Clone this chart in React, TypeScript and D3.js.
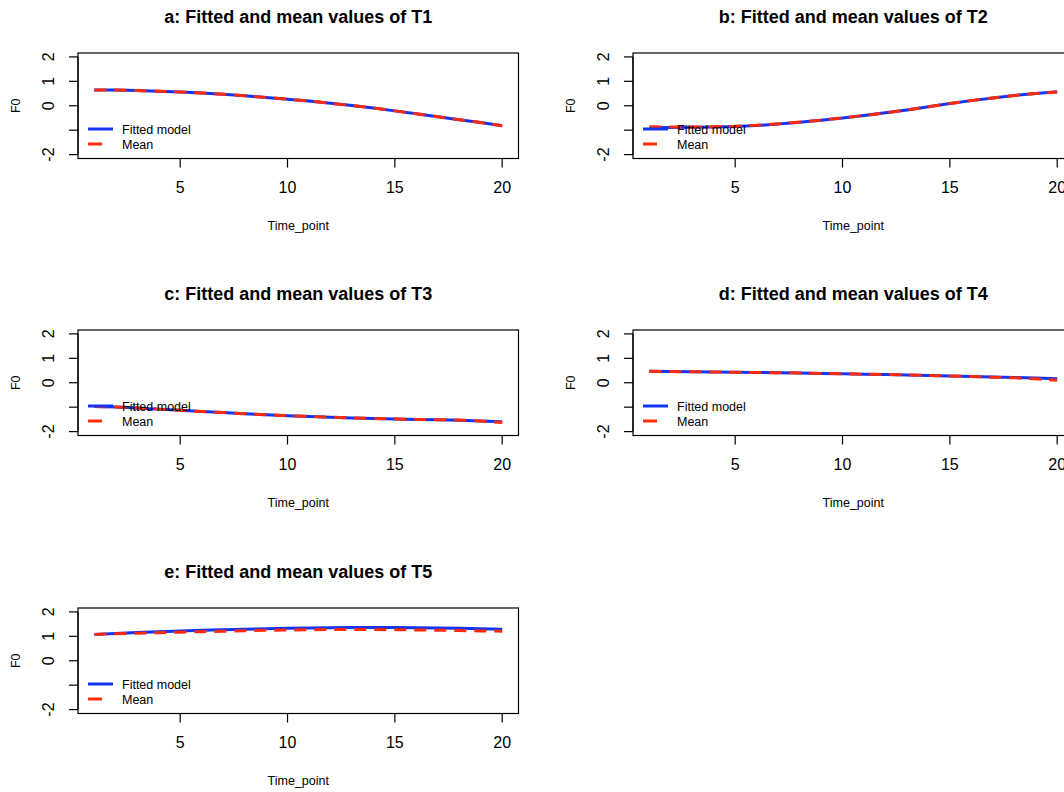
import React from "react";
import * as d3 from "d3";

const timePoints = d3.range(1, 21);
const xTicks = [5, 10, 15, 20];
const yTicks = [-2, -1, 0, 1, 2];
const yTickLabels = ["-2", "", "0", "1", "2"];

const titles = [
  "a: Fitted and mean values of T1",
  "b: Fitted and mean values of T2",
  "c: Fitted and mean values of T3",
  "d: Fitted and mean values of T4",
  "e: Fitted and mean values of T5",
];

const fittedT1 = [0.65, 0.64, 0.62, 0.59, 0.56, 0.52, 0.47, 0.41, 0.34, 0.27, 0.19, 0.1, 0.01, -0.09, -0.21, -0.33, -0.45, -0.57, -0.69, -0.82];
const meanT1 = [0.65, 0.64, 0.62, 0.59, 0.56, 0.52, 0.47, 0.41, 0.34, 0.27, 0.19, 0.1, 0.01, -0.09, -0.21, -0.33, -0.45, -0.57, -0.69, -0.82];
const fittedT2 = [-0.9, -0.89, -0.88, -0.87, -0.85, -0.81, -0.75, -0.68, -0.59, -0.5, -0.4, -0.29, -0.17, -0.04, 0.09, 0.21, 0.32, 0.42, 0.5, 0.57];
const meanT2 = [-0.86, -0.87, -0.87, -0.86, -0.84, -0.8, -0.74, -0.67, -0.59, -0.5, -0.4, -0.29, -0.17, -0.04, 0.09, 0.21, 0.32, 0.42, 0.5, 0.56];
const fittedT3 = [-0.97, -0.99, -1.03, -1.08, -1.13, -1.18, -1.22, -1.27, -1.31, -1.35, -1.38, -1.41, -1.44, -1.46, -1.48, -1.5, -1.52, -1.54, -1.57, -1.6];
const meanT3 = [-0.97, -0.99, -1.03, -1.08, -1.13, -1.18, -1.22, -1.27, -1.31, -1.35, -1.38, -1.41, -1.44, -1.46, -1.48, -1.5, -1.51, -1.53, -1.57, -1.63];
const fittedT4 = [0.47, 0.46, 0.45, 0.44, 0.43, 0.42, 0.41, 0.4, 0.38, 0.37, 0.35, 0.34, 0.32, 0.3, 0.28, 0.26, 0.24, 0.22, 0.19, 0.16];
const meanT4 = [0.47, 0.46, 0.45, 0.44, 0.43, 0.42, 0.41, 0.4, 0.38, 0.37, 0.35, 0.34, 0.32, 0.3, 0.28, 0.26, 0.23, 0.2, 0.16, 0.1];
const fittedT5 = [1.08, 1.12, 1.16, 1.19, 1.22, 1.25, 1.27, 1.29, 1.31, 1.33, 1.34, 1.35, 1.36, 1.36, 1.36, 1.35, 1.34, 1.33, 1.31, 1.29];
const meanT5 = [1.08, 1.11, 1.13, 1.15, 1.17, 1.19, 1.21, 1.23, 1.25, 1.26, 1.27, 1.28, 1.28, 1.28, 1.27, 1.26, 1.25, 1.24, 1.22, 1.21];

const fittedSeries = [fittedT1, fittedT2, fittedT3, fittedT4, fittedT5];
const meanSeries = [meanT1, meanT2, meanT3, meanT4, meanT5];
const legendLabels = ["Fitted model", "Mean"];

const BLUE = "#1434f5";
const RED = "#ff2a0a";
const FONT = "'Liberation Sans', Arial, Helvetica, sans-serif";

const colOffsets = [0, 555];
const rowOffsets = [0, 277, 555];

function Panel({ idx }: { idx: number }) {
  const ox = colOffsets[idx % 2];
  const oy = rowOffsets[Math.floor(idx / 2)];
  const left = 78, right = 518.5, top = 53, bottom = 158.5;
  const x = d3.scaleLinear().domain([0.24, 20.76]).range([left, right]);
  const y = d3.scaleLinear().domain([-2.16, 2.16]).range([bottom, top]);
  const line = d3
    .line<number>()
    .x((_, i) => x(timePoints[i]))
    .y((d) => y(d))
    .curve(d3.curveLinear);
  const cx = (left + right) / 2;
  return (
    <g transform={`translate(${ox},${oy})`}>
      <text x={cx} y={23} textAnchor="middle" fontFamily={FONT} fontWeight="bold" fontSize={18} fill="#000">
        {titles[idx]}
      </text>
      <rect x={left} y={top} width={right - left} height={bottom - top} fill="none" stroke="#000" strokeWidth={1.2} />
      <line x1={x(xTicks[0])} x2={x(xTicks[xTicks.length - 1])} y1={bottom} y2={bottom} stroke="#000" strokeWidth={1.2} />
      {xTicks.map((t) => (
        <g key={t}>
          <line x1={x(t)} x2={x(t)} y1={bottom} y2={bottom + 9} stroke="#000" strokeWidth={1.2} />
          <text x={x(t)} y={193} textAnchor="middle" fontFamily={FONT} fontSize={16} fill="#000">
            {t}
          </text>
        </g>
      ))}
      <line x1={left} x2={left} y1={y(-2)} y2={y(2)} stroke="#000" strokeWidth={1.2} />
      {yTicks.map((t, i) => (
        <g key={t}>
          <line x1={left - 9} x2={left} y1={y(t)} y2={y(t)} stroke="#000" strokeWidth={1.2} />
          {yTickLabels[i] !== "" && (
            <text
              transform={`translate(${53.5},${y(t)}) rotate(-90)`}
              textAnchor="middle"
              fontFamily={FONT}
              fontSize={16}
              fill="#000"
            >
              {yTickLabels[i]}
            </text>
          )}
        </g>
      ))}
      <text x={cx} y={230} textAnchor="middle" fontFamily={FONT} fontSize={12.5} fill="#000">
        Time_point
      </text>
      <text transform={`translate(${19.5},${y(0)}) rotate(-90)`} textAnchor="middle" fontFamily={FONT} fontSize={12.5} fill="#000">
        F0
      </text>
      <path d={line(fittedSeries[idx]) || ""} fill="none" stroke={BLUE} strokeWidth={3} />
      <path d={line(meanSeries[idx]) || ""} fill="none" stroke={RED} strokeWidth={3} strokeDasharray="12 8" />
      <line x1={left + 10} x2={left + 35} y1={129} y2={129} stroke={BLUE} strokeWidth={3} />
      <line x1={left + 10} x2={left + 35} y1={144} y2={144} stroke={RED} strokeWidth={3} strokeDasharray="14 12" />
      <text x={left + 44} y={134} fontFamily={FONT} fontSize={12.5} fill="#000">
        {legendLabels[0]}
      </text>
      <text x={left + 44} y={149} fontFamily={FONT} fontSize={12.5} fill="#000">
        {legendLabels[1]}
      </text>
    </g>
  );
}

export default function App() {
  return (
    <svg width={1064} height={792} style={{ position: "absolute", left: 0, top: 0, background: "#fff" }}>
      <rect x={0} y={0} width={1064} height={792} fill="#fff" />
      {[0, 1, 2, 3, 4].map((i) => (
        <Panel key={i} idx={i} />
      ))}
    </svg>
  );
}
